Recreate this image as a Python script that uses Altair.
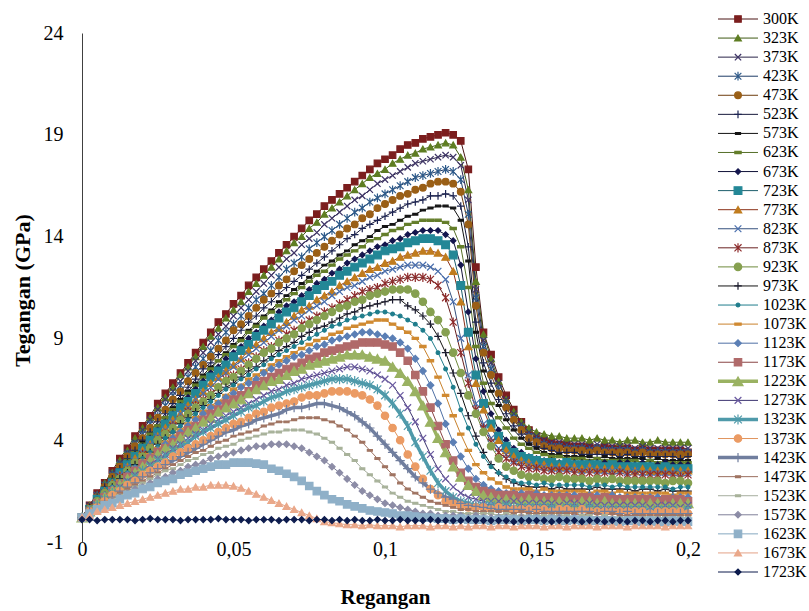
import altair as alt
import pandas as pd

# Strain sampling grid (step 0.0025 from 0 to 0.2)
strain = [round(i * 0.0025, 4) for i in range(81)]

temps = ["300K", "323K", "373K", "423K", "473K", "523K", "573K", "623K", "673K",
         "723K", "773K", "823K", "873K", "923K", "973K", "1023K", "1073K", "1123K",
         "1173K", "1223K", "1273K", "1323K", "1373K", "1423K", "1473K", "1523K",
         "1573K", "1623K", "1673K", "1723K"]

# Stress (GPa) for each temperature, one value per strain step
k300 = [0.2, 0.8, 1.4, 1.9, 2.5, 3.1, 3.6, 4.2, 4.7, 5.2,
        5.8, 6.3, 6.8, 7.3, 7.8, 8.3, 8.8, 9.3, 9.8, 10.2,
        10.7, 11.1, 11.6, 12.0, 12.4, 12.8, 13.2, 13.6, 14.0, 14.4,
        14.8, 15.1, 15.5, 15.8, 16.1, 16.4, 16.7, 17.0, 17.3, 17.6,
        17.8, 18.0, 18.3, 18.5, 18.6, 18.8, 18.9, 19.0, 19.1, 19.0,
        18.7, 17.3, 12.5, 9.3, 8.2, 7.1, 6.2, 5.5, 4.9, 4.5,
        4.2, 4.0, 3.9, 3.8, 3.8, 3.7, 3.7, 3.7, 3.6, 3.7,
        3.6, 3.6, 3.6, 3.5, 3.6, 3.5, 3.5, 3.5, 3.5, 3.5, 3.4]
k323 = [0.2, 0.8, 1.3, 1.9, 2.4, 3.0, 3.5, 4.1, 4.6, 5.1,
        5.6, 6.1, 6.6, 7.2, 7.6, 8.1, 8.6, 9.1, 9.5, 10.0,
        10.4, 10.8, 11.3, 11.7, 12.1, 12.5, 12.9, 13.3, 13.7, 14.0,
        14.4, 14.7, 15.1, 15.4, 15.7, 16.0, 16.3, 16.6, 16.9, 17.1,
        17.3, 17.6, 17.8, 18.0, 18.1, 18.3, 18.4, 18.5, 18.6, 18.5,
        17.9, 16.3, 11.8, 9.2, 8.0, 6.9, 6.0, 5.4, 4.9, 4.6,
        4.4, 4.3, 4.2, 4.2, 4.1, 4.1, 4.1, 4.0, 4.1, 4.0,
        4.0, 3.9, 4.0, 4.0, 3.9, 3.9, 4.0, 3.9, 3.9, 3.9, 3.9]
k373 = [0.2, 0.8, 1.3, 1.8, 2.4, 2.9, 3.4, 3.9, 4.5, 5.0,
        5.5, 6.0, 6.4, 6.9, 7.4, 7.9, 8.3, 8.8, 9.2, 9.6,
        10.1, 10.5, 10.9, 11.3, 11.7, 12.1, 12.5, 12.9, 13.2, 13.6,
        13.9, 14.2, 14.6, 14.9, 15.2, 15.5, 15.8, 16.0, 16.3, 16.6,
        16.8, 17.0, 17.2, 17.4, 17.6, 17.7, 17.8, 17.9, 18.0, 17.9,
        17.5, 15.8, 11.4, 8.9, 7.8, 6.8, 6.0, 5.3, 4.8, 4.4,
        4.2, 4.0, 3.9, 3.9, 3.8, 3.8, 3.8, 3.7, 3.8, 3.7,
        3.7, 3.7, 3.7, 3.6, 3.7, 3.6, 3.6, 3.6, 3.6, 3.6, 3.6]
k423 = [0.2, 0.7, 1.3, 1.8, 2.3, 2.8, 3.3, 3.8, 4.3, 4.8,
        5.2, 5.7, 6.2, 6.7, 7.1, 7.6, 8.0, 8.4, 8.9, 9.3,
        9.7, 10.1, 10.5, 10.9, 11.2, 11.6, 12.0, 12.4, 12.7, 13.0,
        13.4, 13.7, 14.0, 14.3, 14.6, 14.9, 15.2, 15.4, 15.7, 15.9,
        16.1, 16.3, 16.5, 16.7, 16.9, 17.0, 17.1, 17.2, 17.3, 17.2,
        16.8, 15.1, 11.0, 8.6, 7.5, 6.5, 5.8, 5.1, 4.6, 4.2,
        4.0, 3.8, 3.7, 3.7, 3.6, 3.6, 3.6, 3.5, 3.6, 3.5,
        3.5, 3.5, 3.5, 3.4, 3.5, 3.4, 3.4, 3.4, 3.4, 3.4, 3.4]
k473 = [0.2, 0.7, 1.2, 1.7, 2.2, 2.7, 3.2, 3.7, 4.1, 4.6,
        5.1, 5.5, 6.0, 6.4, 6.9, 7.3, 7.7, 8.1, 8.5, 8.9,
        9.4, 9.7, 10.1, 10.5, 10.9, 11.2, 11.6, 11.9, 12.3, 12.6,
        12.9, 13.2, 13.5, 13.8, 14.1, 14.4, 14.6, 14.9, 15.1, 15.4,
        15.6, 15.8, 16.0, 16.1, 16.3, 16.4, 16.6, 16.7, 16.7, 16.6,
        16.2, 14.6, 10.6, 8.3, 7.2, 6.3, 5.6, 5.0, 4.5, 4.1,
        3.9, 3.7, 3.6, 3.6, 3.5, 3.5, 3.5, 3.4, 3.5, 3.4,
        3.4, 3.4, 3.4, 3.3, 3.4, 3.3, 3.3, 3.3, 3.3, 3.3, 3.3]
k523 = [0.2, 0.7, 1.2, 1.7, 2.1, 2.6, 3.1, 3.5, 4.0, 4.4,
        4.9, 5.3, 5.8, 6.2, 6.6, 7.0, 7.5, 7.8, 8.2, 8.6,
        9.0, 9.4, 9.8, 10.1, 10.5, 10.8, 11.2, 11.5, 11.8, 12.1,
        12.4, 12.7, 13.0, 13.3, 13.6, 13.9, 14.1, 14.4, 14.6, 14.8,
        15.0, 15.2, 15.4, 15.6, 15.7, 15.8, 16.0, 16.0, 16.1, 16.0,
        15.5, 13.5, 9.8, 7.8, 6.8, 6.0, 5.3, 4.7, 4.3, 3.9,
        3.7, 3.6, 3.5, 3.4, 3.4, 3.4, 3.3, 3.3, 3.3, 3.3,
        3.3, 3.2, 3.3, 3.2, 3.2, 3.2, 3.2, 3.2, 3.2, 3.1, 3.2]
k573 = [0.2, 0.7, 1.1, 1.6, 2.1, 2.5, 3.0, 3.4, 3.9, 4.3,
        4.7, 5.1, 5.6, 6.0, 6.4, 6.8, 7.2, 7.6, 7.9, 8.3,
        8.7, 9.0, 9.4, 9.7, 10.1, 10.4, 10.8, 11.1, 11.4, 11.7,
        12.0, 12.3, 12.6, 12.8, 13.1, 13.3, 13.6, 13.8, 14.0, 14.3,
        14.5, 14.6, 14.8, 15.0, 15.1, 15.3, 15.4, 15.5, 15.5, 15.4,
        14.8, 12.8, 9.3, 7.4, 6.4, 5.7, 5.0, 4.5, 4.1, 3.8,
        3.6, 3.4, 3.3, 3.3, 3.2, 3.2, 3.2, 3.2, 3.1, 3.2,
        3.1, 3.1, 3.1, 3.1, 3.1, 3.0, 3.1, 3.0, 3.0, 3.0, 3.0]
k623 = [0.2, 0.7, 1.1, 1.6, 2.1, 2.5, 3.0, 3.4, 3.8, 4.3,
        4.7, 5.1, 5.5, 5.9, 6.3, 6.7, 7.1, 7.5, 7.9, 8.2,
        8.6, 8.9, 9.3, 9.6, 10.0, 10.3, 10.6, 10.9, 11.2, 11.5,
        11.8, 12.1, 12.3, 12.6, 12.9, 13.1, 13.3, 13.5, 13.8, 13.9,
        14.1, 14.3, 14.4, 14.6, 14.7, 14.8, 14.8, 14.8, 14.7, 14.4,
        13.5, 11.5, 8.6, 6.8, 5.8, 5.1, 4.6, 4.1, 3.8, 3.6,
        3.4, 3.3, 3.2, 3.2, 3.1, 3.1, 3.1, 3.0, 3.1, 3.0,
        3.0, 3.0, 3.0, 3.0, 2.9, 3.0, 2.9, 2.9, 2.9, 2.9, 2.9]
k673 = [0.2, 0.7, 1.1, 1.6, 2.0, 2.4, 2.9, 3.3, 3.7, 4.1,
        4.5, 4.9, 5.3, 5.7, 6.1, 6.5, 6.9, 7.3, 7.6, 8.0,
        8.3, 8.6, 9.0, 9.3, 9.6, 9.9, 10.3, 10.6, 10.8, 11.1,
        11.4, 11.7, 11.9, 12.2, 12.4, 12.7, 12.9, 13.1, 13.3, 13.5,
        13.6, 13.8, 13.9, 14.1, 14.2, 14.3, 14.3, 14.3, 14.1, 13.8,
        12.6, 10.3, 8.0, 6.4, 5.3, 4.5, 4.0, 3.6, 3.4, 3.2,
        3.1, 3.0, 3.0, 2.9, 3.0, 2.9, 2.9, 2.9, 2.9, 2.9,
        2.8, 2.9, 2.9, 2.8, 2.9, 2.8, 2.8, 2.9, 2.8, 2.8, 2.8]
k723 = [0.2, 0.6, 1.1, 1.5, 1.9, 2.4, 2.8, 3.2, 3.6, 4.0,
        4.4, 4.8, 5.2, 5.6, 5.9, 6.3, 6.7, 7.1, 7.4, 7.7,
        8.1, 8.4, 8.7, 9.1, 9.4, 9.7, 10.0, 10.3, 10.5, 10.8,
        11.1, 11.4, 11.6, 11.8, 12.1, 12.3, 12.5, 12.7, 12.9, 13.1,
        13.3, 13.4, 13.5, 13.7, 13.8, 13.9, 13.9, 13.8, 13.6, 13.1,
        11.6, 9.3, 7.2, 5.8, 4.8, 4.2, 3.7, 3.4, 3.2, 3.1,
        3.0, 2.9, 2.9, 2.8, 2.9, 2.8, 2.8, 2.8, 2.8, 2.7,
        2.8, 2.7, 2.7, 2.7, 2.7, 2.7, 2.6, 2.7, 2.6, 2.6, 2.6]
k773 = [0.2, 0.6, 1.0, 1.5, 1.9, 2.3, 2.7, 3.1, 3.5, 3.8,
        4.2, 4.6, 5.0, 5.3, 5.7, 6.0, 6.4, 6.8, 7.1, 7.4,
        7.7, 8.0, 8.4, 8.7, 9.0, 9.3, 9.5, 9.8, 10.1, 10.4,
        10.6, 10.9, 11.1, 11.3, 11.6, 11.8, 12.0, 12.2, 12.4, 12.5,
        12.7, 12.8, 13.0, 13.1, 13.2, 13.3, 13.3, 13.2, 13.0, 12.3,
        10.8, 8.6, 6.8, 5.5, 4.6, 4.0, 3.5, 3.2, 3.0, 2.9,
        2.8, 2.8, 2.7, 2.7, 2.7, 2.7, 2.6, 2.7, 2.6, 2.6,
        2.6, 2.6, 2.6, 2.5, 2.6, 2.5, 2.5, 2.5, 2.5, 2.5, 2.5]
k823 = [0.2, 0.6, 1.0, 1.4, 1.9, 2.3, 2.7, 3.0, 3.4, 3.8,
        4.2, 4.5, 4.9, 5.3, 5.6, 6.0, 6.3, 6.6, 7.0, 7.3,
        7.6, 7.9, 8.2, 8.5, 8.8, 9.1, 9.4, 9.6, 9.9, 10.1,
        10.4, 10.6, 10.8, 11.1, 11.3, 11.5, 11.6, 11.8, 12.0, 12.1,
        12.3, 12.4, 12.5, 12.6, 12.6, 12.6, 12.5, 12.3, 11.9, 10.8,
        9.0, 7.2, 5.8, 4.8, 4.1, 3.6, 3.3, 3.0, 2.9, 2.8,
        2.7, 2.7, 2.6, 2.6, 2.6, 2.6, 2.5, 2.6, 2.5, 2.5,
        2.5, 2.5, 2.4, 2.5, 2.4, 2.4, 2.4, 2.4, 2.4, 2.4, 2.4]
k873 = [0.2, 0.6, 1.0, 1.4, 1.8, 2.2, 2.5, 2.9, 3.3, 3.6,
        4.0, 4.3, 4.7, 5.0, 5.4, 5.7, 6.0, 6.3, 6.6, 7.0,
        7.2, 7.5, 7.8, 8.1, 8.4, 8.6, 8.9, 9.2, 9.4, 9.7,
        9.9, 10.1, 10.3, 10.5, 10.7, 10.9, 11.1, 11.3, 11.4, 11.5,
        11.7, 11.8, 11.9, 12.0, 12.0, 12.0, 11.9, 11.6, 11.0, 9.8,
        8.3, 6.8, 5.5, 4.6, 3.9, 3.4, 3.1, 2.9, 2.7, 2.6,
        2.6, 2.5, 2.5, 2.5, 2.5, 2.4, 2.4, 2.4, 2.4, 2.4,
        2.3, 2.4, 2.3, 2.3, 2.3, 2.3, 2.3, 2.3, 2.3, 2.2, 2.3]
k923 = [0.2, 0.6, 1.0, 1.4, 1.8, 2.1, 2.5, 2.9, 3.2, 3.6,
        4.0, 4.3, 4.6, 5.0, 5.3, 5.6, 5.9, 6.2, 6.6, 6.9,
        7.1, 7.4, 7.7, 8.0, 8.3, 8.5, 8.8, 9.0, 9.2, 9.5,
        9.7, 9.9, 10.1, 10.3, 10.5, 10.6, 10.8, 10.9, 11.1, 11.2,
        11.3, 11.4, 11.4, 11.4, 11.2, 10.8, 10.3, 9.9, 9.3, 8.3,
        7.3, 6.2, 5.3, 4.4, 3.7, 3.1, 2.7, 2.5, 2.3, 2.2,
        2.2, 2.1, 2.1, 2.2, 2.1, 2.1, 2.1, 2.0, 2.1, 2.0,
        2.1, 2.0, 2.0, 2.0, 2.0, 2.0, 2.0, 1.9, 2.0, 2.0, 1.9]
k973 = [0.2, 0.6, 0.9, 1.3, 1.7, 2.1, 2.4, 2.8, 3.1, 3.4,
        3.8, 4.1, 4.4, 4.8, 5.1, 5.4, 5.7, 6.0, 6.3, 6.6,
        6.8, 7.1, 7.4, 7.6, 7.9, 8.1, 8.4, 8.6, 8.8, 9.1,
        9.3, 9.5, 9.6, 9.8, 10.0, 10.2, 10.3, 10.5, 10.6, 10.7,
        10.8, 10.9, 10.9, 10.6, 10.4, 10.1, 9.7, 9.1, 8.3, 7.3,
        6.3, 5.2, 4.2, 3.4, 2.8, 2.4, 2.1, 1.9, 1.8, 1.7,
        1.7, 1.7, 1.6, 1.7, 1.6, 1.6, 1.6, 1.6, 1.7, 1.6,
        1.6, 1.6, 1.6, 1.5, 1.6, 1.6, 1.5, 1.6, 1.5, 1.5, 1.5]
k1023 = [0.2, 0.6, 0.9, 1.3, 1.7, 2.0, 2.4, 2.7, 3.1, 3.4,
         3.7, 4.1, 4.4, 4.7, 5.0, 5.3, 5.6, 5.9, 6.2, 6.5,
         6.7, 7.0, 7.2, 7.5, 7.7, 8.0, 8.2, 8.4, 8.6, 8.8,
         9.0, 9.2, 9.4, 9.6, 9.7, 9.9, 10.0, 10.1, 10.2, 10.3,
         10.3, 10.2, 10.1, 9.9, 9.7, 9.4, 9.0, 8.3, 7.5, 6.6,
         5.5, 4.6, 3.8, 3.2, 2.7, 2.4, 2.2, 2.0, 1.9, 1.9,
         1.8, 1.9, 1.8, 1.8, 1.8, 1.8, 1.8, 1.7, 1.8, 1.8,
         1.7, 1.8, 1.7, 1.7, 1.7, 1.7, 1.7, 1.7, 1.6, 1.7, 1.7]
k1073 = [0.2, 0.6, 0.9, 1.3, 1.6, 2.0, 2.3, 2.6, 3.0, 3.3,
         3.6, 3.9, 4.2, 4.5, 4.8, 5.1, 5.4, 5.7, 5.9, 6.2,
         6.5, 6.7, 7.0, 7.2, 7.4, 7.7, 7.9, 8.1, 8.3, 8.5,
         8.7, 8.9, 9.0, 9.2, 9.3, 9.5, 9.6, 9.7, 9.8, 9.9,
         9.9, 9.7, 9.5, 9.3, 9.0, 8.6, 7.9, 7.1, 6.2, 5.2,
         4.3, 3.5, 2.8, 2.4, 2.1, 1.9, 1.7, 1.6, 1.6, 1.6,
         1.5, 1.6, 1.5, 1.5, 1.5, 1.5, 1.5, 1.4, 1.5, 1.5,
         1.4, 1.5, 1.4, 1.4, 1.4, 1.4, 1.4, 1.4, 1.3, 1.4, 1.4]
k1123 = [0.2, 0.6, 0.9, 1.3, 1.6, 1.9, 2.3, 2.6, 2.9, 3.2,
         3.5, 3.8, 4.1, 4.4, 4.7, 5.0, 5.3, 5.6, 5.8, 6.1,
         6.3, 6.6, 6.8, 7.0, 7.3, 7.5, 7.7, 7.9, 8.1, 8.2,
         8.4, 8.6, 8.7, 8.9, 9.0, 9.1, 9.2, 9.3, 9.3, 9.2,
         9.1, 9.0, 8.8, 8.5, 8.0, 7.4, 6.7, 5.8, 4.8, 3.9,
         3.2, 2.6, 2.1, 1.8, 1.6, 1.5, 1.4, 1.4, 1.4, 1.3,
         1.4, 1.3, 1.3, 1.3, 1.3, 1.3, 1.2, 1.3, 1.3, 1.2,
         1.3, 1.2, 1.2, 1.2, 1.2, 1.2, 1.2, 1.1, 1.2, 1.2, 1.2]
k1173 = [0.2, 0.5, 0.9, 1.2, 1.5, 1.8, 2.2, 2.5, 2.8, 3.1,
         3.4, 3.6, 3.9, 4.2, 4.5, 4.7, 5.0, 5.3, 5.5, 5.8,
         6.0, 6.2, 6.4, 6.7, 6.9, 7.1, 7.3, 7.5, 7.6, 7.8,
         8.0, 8.1, 8.3, 8.4, 8.5, 8.6, 8.7, 8.8, 8.8, 8.8,
         8.7, 8.6, 8.3, 7.9, 7.2, 6.4, 5.6, 4.7, 3.8, 3.0,
         2.4, 2.0, 1.7, 1.5, 1.4, 1.3, 1.3, 1.3, 1.2, 1.3,
         1.2, 1.2, 1.2, 1.2, 1.2, 1.1, 1.2, 1.2, 1.1, 1.2,
         1.1, 1.1, 1.1, 1.1, 1.1, 1.1, 1.0, 1.1, 1.1, 1.1, 1.0]
k1223 = [0.2, 0.5, 0.9, 1.2, 1.5, 1.8, 2.1, 2.4, 2.7, 3.0,
         3.3, 3.6, 3.8, 4.1, 4.4, 4.6, 4.9, 5.1, 5.4, 5.6,
         5.8, 6.0, 6.3, 6.5, 6.7, 6.9, 7.0, 7.2, 7.4, 7.5,
         7.7, 7.8, 7.9, 8.0, 8.1, 8.2, 8.2, 8.2, 8.1, 8.0,
         7.9, 7.6, 7.3, 6.9, 6.4, 5.7, 4.9, 4.1, 3.4, 2.7,
         2.2, 1.8, 1.5, 1.3, 1.2, 1.1, 1.1, 1.1, 1.0, 1.1,
         1.0, 1.0, 1.0, 1.0, 1.0, 0.9, 1.0, 1.0, 0.9, 1.0,
         0.9, 0.9, 0.9, 0.9, 0.9, 0.9, 0.9, 0.8, 0.9, 0.9, 0.9]
k1273 = [0.2, 0.5, 0.8, 1.1, 1.4, 1.7, 2.0, 2.3, 2.5, 2.8,
         3.1, 3.3, 3.6, 3.8, 4.1, 4.3, 4.5, 4.8, 5.0, 5.2,
         5.4, 5.6, 5.8, 6.0, 6.2, 6.4, 6.5, 6.7, 6.8, 7.0,
         7.1, 7.2, 7.3, 7.4, 7.5, 7.6, 7.6, 7.5, 7.4, 7.2,
         7.0, 6.7, 6.2, 5.6, 4.9, 4.1, 3.3, 2.6, 2.1, 1.7,
         1.4, 1.2, 1.1, 1.0, 1.0, 1.0, 0.9, 1.0, 0.9, 0.9,
         0.9, 0.9, 0.9, 0.8, 0.9, 0.9, 0.8, 0.9, 0.8, 0.8,
         0.8, 0.8, 0.8, 0.8, 0.8, 0.7, 0.8, 0.8, 0.8, 0.7, 0.8]
k1323 = [0.2, 0.5, 0.8, 1.1, 1.4, 1.6, 1.9, 2.2, 2.5, 2.7,
         3.0, 3.2, 3.5, 3.7, 3.9, 4.2, 4.4, 4.6, 4.8, 5.0,
         5.2, 5.4, 5.6, 5.7, 5.9, 6.1, 6.2, 6.4, 6.5, 6.6,
         6.7, 6.8, 6.9, 7.0, 7.0, 7.0, 6.9, 6.8, 6.7, 6.5,
         6.2, 5.8, 5.3, 4.7, 3.9, 3.2, 2.5, 1.9, 1.5, 1.2,
         1.0, 0.9, 0.8, 0.8, 0.8, 0.7, 0.8, 0.7, 0.7, 0.7,
         0.7, 0.7, 0.7, 0.6, 0.7, 0.7, 0.6, 0.7, 0.6, 0.6,
         0.6, 0.6, 0.6, 0.6, 0.6, 0.5, 0.6, 0.6, 0.6, 0.5, 0.6]
k1373 = [0.2, 0.5, 0.7, 1.0, 1.3, 1.5, 1.8, 2.0, 2.3, 2.5,
         2.7, 2.9, 3.2, 3.4, 3.6, 3.8, 4.0, 4.2, 4.4, 4.6,
         4.8, 4.9, 5.1, 5.3, 5.4, 5.6, 5.7, 5.8, 5.9, 6.1,
         6.2, 6.2, 6.3, 6.4, 6.4, 6.4, 6.3, 6.2, 6.0, 5.7,
         5.2, 4.6, 4.0, 3.3, 2.7, 2.1, 1.6, 1.3, 1.0, 0.9,
         0.8, 0.7, 0.7, 0.7, 0.6, 0.7, 0.6, 0.6, 0.6, 0.6,
         0.6, 0.6, 0.5, 0.6, 0.6, 0.5, 0.6, 0.5, 0.5, 0.5,
         0.5, 0.5, 0.5, 0.5, 0.5, 0.4, 0.5, 0.5, 0.5, 0.5, 0.4]
k1423 = [0.2, 0.5, 0.7, 1.0, 1.2, 1.5, 1.7, 1.9, 2.2, 2.4,
         2.6, 2.8, 3.0, 3.2, 3.4, 3.6, 3.8, 4.0, 4.2, 4.4,
         4.5, 4.7, 4.8, 5.0, 5.1, 5.2, 5.3, 5.5, 5.6, 5.6,
         5.7, 5.8, 5.8, 5.7, 5.6, 5.4, 5.2, 4.9, 4.6, 4.2,
         3.8, 3.4, 3.0, 2.6, 2.2, 1.9, 1.6, 1.4, 1.2, 1.1,
         0.9, 0.8, 0.75, 0.7, 0.65, 0.6, 0.6, 0.6, 0.6, 0.5,
         0.6, 0.5, 0.5, 0.5, 0.5, 0.5, 0.5, 0.5, 0.4, 0.5,
         0.5, 0.4, 0.5, 0.4, 0.4, 0.4, 0.4, 0.4, 0.4, 0.4, 0.4]
k1473 = [0.2, 0.4, 0.7, 0.9, 1.1, 1.4, 1.6, 1.8, 2.0, 2.2,
         2.4, 2.6, 2.8, 3.0, 3.2, 3.4, 3.5, 3.7, 3.9, 4.0,
         4.2, 4.3, 4.4, 4.5, 4.7, 4.8, 4.9, 4.9, 5.0, 5.1,
         5.1, 5.1, 5.0, 4.9, 4.7, 4.5, 4.2, 3.9, 3.5, 3.1,
         2.7, 2.3, 1.9, 1.6, 1.4, 1.2, 1.0, 0.9, 0.8, 0.7,
         0.6, 0.6, 0.5, 0.5, 0.5, 0.5, 0.5, 0.4, 0.5, 0.4,
         0.4, 0.4, 0.4, 0.4, 0.4, 0.4, 0.3, 0.4, 0.4, 0.3,
         0.4, 0.3, 0.3, 0.3, 0.3, 0.3, 0.3, 0.3, 0.3, 0.3, 0.3]
k1523 = [0.2, 0.4, 0.7, 0.9, 1.1, 1.3, 1.5, 1.7, 1.9, 2.1,
         2.3, 2.5, 2.6, 2.8, 3.0, 3.1, 3.3, 3.4, 3.6, 3.7,
         3.8, 4.0, 4.1, 4.2, 4.3, 4.4, 4.4, 4.5, 4.5, 4.5,
         4.4, 4.3, 4.1, 3.9, 3.6, 3.3, 3.0, 2.6, 2.3, 2.0,
         1.7, 1.4, 1.2, 1.0, 0.9, 0.8, 0.7, 0.6, 0.5, 0.5,
         0.4, 0.4, 0.4, 0.4, 0.4, 0.3, 0.4, 0.3, 0.3, 0.3,
         0.3, 0.3, 0.3, 0.3, 0.3, 0.2, 0.3, 0.3, 0.2, 0.3,
         0.2, 0.2, 0.2, 0.2, 0.2, 0.2, 0.2, 0.2, 0.2, 0.2, 0.2]
k1573 = [0.2, 0.4, 0.6, 0.8, 1.0, 1.2, 1.4, 1.6, 1.7, 1.9,
         2.1, 2.2, 2.4, 2.5, 2.7, 2.8, 2.9, 3.1, 3.2, 3.3,
         3.4, 3.5, 3.6, 3.7, 3.7, 3.8, 3.8, 3.8, 3.7, 3.6,
         3.4, 3.2, 3.0, 2.7, 2.4, 2.1, 1.8, 1.5, 1.3, 1.1,
         0.9, 0.8, 0.7, 0.6, 0.5, 0.4, 0.4, 0.3, 0.3, 0.3,
         0.3, 0.2, 0.3, 0.2, 0.2, 0.2, 0.2, 0.2, 0.2, 0.2,
         0.2, 0.1, 0.2, 0.2, 0.1, 0.2, 0.1, 0.1, 0.1, 0.1,
         0.1, 0.1, 0.1, 0.1, 0.1, 0.1, 0.1, 0.1, 0.1, 0.1, 0.1]
k1623 = [0.2, 0.4, 0.6, 0.8, 0.9, 1.1, 1.3, 1.4, 1.6, 1.7,
         1.9, 2.0, 2.1, 2.3, 2.4, 2.5, 2.6, 2.7, 2.8, 2.8,
         2.9, 2.9, 2.9, 2.85, 2.8, 2.6, 2.5, 2.35, 2.2, 2.0,
         1.75, 1.5, 1.3, 1.1, 1.0, 0.85, 0.75, 0.65, 0.55, 0.5,
         0.45, 0.4, 0.3, 0.3, 0.25, 0.2, 0.2, 0.15, 0.15, 0.1,
         0.15, 0.1, 0.1, 0.1, 0.05, 0.1, 0.1, 0.1, 0.05, 0.1,
         0.1, 0.05, 0.1, 0.05, 0.05, 0.1, 0.05, 0.05, 0.05, 0.05,
         0.05, 0.0, 0.05, 0.05, 0.0, 0.05, 0.0, 0.0, 0.05, 0.0, 0.0]
k1673 = [0.2, 0.3, 0.5, 0.6, 0.7, 0.8, 0.9, 1.0, 1.1, 1.2,
         1.3, 1.4, 1.5, 1.6, 1.6, 1.7, 1.7, 1.8, 1.8, 1.8,
         1.75, 1.65, 1.5, 1.35, 1.2, 1.05, 0.9, 0.75, 0.6, 0.45,
         0.3, 0.15, 0.0, -0.05, -0.1, -0.15, -0.15, -0.2, -0.15, -0.2,
         -0.2, -0.2, -0.25, -0.2, -0.2, -0.2, -0.25, -0.2, -0.2, -0.25,
         -0.2, -0.25, -0.2, -0.2, -0.25, -0.2, -0.2, -0.25, -0.2, -0.2,
         -0.2, -0.25, -0.2, -0.2, -0.25, -0.2, -0.2, -0.2, -0.25, -0.2,
         -0.2, -0.2, -0.25, -0.2, -0.2, -0.2, -0.2, -0.25, -0.2, -0.2, -0.2]
k1723 = [0.1, 0.1, 0.05, 0.1, 0.1, 0.1, 0.1, 0.05, 0.1, 0.15,
         0.1, 0.1, 0.1, 0.05, 0.1, 0.1, 0.1, 0.1, 0.15, 0.1,
         0.1, 0.1, 0.05, 0.1, 0.1, 0.1, 0.05, 0.1, 0.1, 0.1,
         0.05, 0.1, 0.1, 0.05, 0.1, 0.05, 0.1, 0.05, 0.05, 0.1,
         0.05, 0.05, 0.1, 0.05, 0.05, 0.05, 0.1, 0.05, 0.05, 0.05,
         0.05, 0.1, 0.05, 0.05, 0.05, 0.05, 0.05, 0.0, 0.05, 0.05,
         0.05, 0.05, 0.0, 0.05, 0.05, 0.05, 0.0, 0.05, 0.05, 0.0,
         0.05, 0.05, 0.0, 0.05, 0.05, 0.0, 0.05, 0.05, 0.0, 0.05, 0.05]

series = [k300, k323, k373, k423, k473, k523, k573, k623, k673, k723, k773,
          k823, k873, k923, k973, k1023, k1073, k1123, k1173, k1223, k1273,
          k1323, k1373, k1423, k1473, k1523, k1573, k1623, k1673, k1723]

# ---- styling per series ----
SQ = "square"
TRI = "triangle-up"
CIR = "circle"
DIA = "diamond"
XM = "M-1,-1L1,1M-1,1L1,-1"
STAR = "M-1,-1L1,1M-1,1L1,-1M0,-1.3L0,1.3"
PLUS = "M-1.2,0L1.2,0M0,-1.2L0,1.2"
DASH = "M-1,-0.35L1,-0.35L1,0.35L-1,0.35Z"

shapes = [SQ, TRI, XM, STAR, CIR, PLUS, DASH, DASH, DIA, SQ, TRI, XM, STAR, CIR,
          PLUS, CIR, DASH, DIA, SQ, TRI, XM, STAR, CIR, PLUS, DASH, DASH, DIA,
          SQ, TRI, DIA]
sizes = [42, 45, 40, 45, 45, 40, 25, 40, 30, 60, 55, 45, 50, 55, 40, 14, 40, 45,
         55, 100, 45, 60, 55, 60, 25, 25, 40, 55, 50, 35]
marker_colors = ["#7b1e1e", "#5e7d22", "#3e3466", "#2d5a8a", "#9a5f16", "#1c2452",
                 "#151515", "#647e2a", "#14164e", "#238796", "#c07c1e", "#4a6fae",
                 "#8e2c2c", "#86a050", "#1b1b2e", "#1f7d8c", "#d08a32", "#5b7fb5",
                 "#b06a6a", "#9ab262", "#6a5aa0", "#4f9aaa", "#eb9b64", "#707e9e",
                 "#a07462", "#a8b29a", "#8c8ca6", "#8fb0c8", "#eaa88a", "#0c1b4d"]
line_colors = ["#4a1414", "#3f5a14", "#2a2448", "#1e3c66", "#6e3c0e", "#16183a",
               "#111111", "#56702a", "#101238", "#1b5e6b", "#8a3018", "#34507e",
               "#6a2020", "#6f8a3c", "#151515", "#1f7d8c", "#c9822c", "#4f70a5",
               "#8a4444", "#9ab262", "#3c3470", "#4f9aaa", "#e0955e", "#707e9e",
               "#9a6e5e", "#a6ae9e", "#80809a", "#86a8c0", "#e3a286", "#0c1b4d"]
widths = [1.0] * 19 + [3.5, 1.0, 3.5, 1.0, 3.5] + [1.0] * 6

rows = []
for name, vals in zip(temps, series):
    assert len(vals) == len(strain), (name, len(vals))
    for s, v in zip(strain, vals):
        rows.append({"strain": s, "stress": v, "T": name})
df = pd.DataFrame(rows)
legend_df = pd.DataFrame({"T": temps})

FONT = "Liberation Serif"

line_scale = alt.Scale(domain=temps, range=line_colors)
mark_scale = alt.Scale(domain=temps, range=marker_colors)
shape_scale = alt.Scale(domain=temps, range=shapes)
size_scale = alt.Scale(type="ordinal", domain=temps, range=sizes)
width_scale = alt.Scale(type="ordinal", domain=temps, range=widths)

x_enc = alt.X(
    "strain:Q",
    scale=alt.Scale(domain=[0, 0.2], nice=False, zero=False),
    axis=alt.Axis(
        title="Regangan", values=[0, 0.05, 0.1, 0.15, 0.2],
        labelExpr="replace(toString(datum.value), '.', ',')",
        domain=False, ticks=False, tickSize=0, grid=False,
        labelFlush=False, labelOverlap=False, labelBound=False,
        labelBaseline="middle", labelPadding=7,
        labelFont=FONT, labelFontSize=20, labelColor="black",
        titleFont=FONT, titleFontSize=21, titleFontWeight="bold",
        titleColor="black", titleY=55, titleBaseline="middle",
    ),
)
y_enc = alt.Y(
    "stress:Q",
    scale=alt.Scale(domain=[-1, 24], nice=False, zero=False),
    axis=alt.Axis(
        title="Tegangan (GPa)", values=[-1, 4, 9, 14, 19, 24],
        labelExpr="toString(datum.value)",
        domainColor="#404040", domainWidth=1, ticks=False, tickSize=0,
        grid=False, labelPadding=19,
        labelFont=FONT, labelFontSize=20, labelColor="black",
        titleFont=FONT, titleFontSize=22, titleFontWeight="bold",
        titleColor="black", titleX=-60, titleY=257, titleAngle=270,
        titleAlign="center", titleBaseline="middle",
    ),
)

lines = alt.Chart(df).mark_line(interpolate="linear").encode(
    x=x_enc,
    y=y_enc,
    color=alt.Color("T:N", scale=line_scale, legend=None),
    strokeWidth=alt.StrokeWidth("T:N", scale=width_scale, legend=None),
    detail="T:N",
)

points = alt.Chart(df).mark_point(filled=True, strokeWidth=1.2, opacity=1).encode(
    x=x_enc,
    y=y_enc,
    shape=alt.Shape("T:N", scale=shape_scale, legend=None),
    fill=alt.Fill("T:N", scale=mark_scale, legend=None),
    stroke=alt.Stroke("T:N", scale=mark_scale, legend=None),
    size=alt.Size("T:N", scale=size_scale, legend=None),
)

# Legend column drawn from the series list
leg_y = alt.Y("T:N", sort=temps,
              scale=alt.Scale(type="point", domain=temps, range=[-14, 539], padding=0),
              axis=None)
leg_rule = alt.Chart(legend_df).mark_rule().encode(
    y=leg_y, x=alt.value(636), x2=alt.value(676),
    color=alt.Color("T:N", scale=line_scale, legend=None),
    strokeWidth=alt.StrokeWidth("T:N", scale=width_scale, legend=None),
)
leg_pts = alt.Chart(legend_df).mark_point(filled=True, strokeWidth=1.2, opacity=1).encode(
    y=leg_y, x=alt.value(656),
    shape=alt.Shape("T:N", scale=shape_scale, legend=None),
    fill=alt.Fill("T:N", scale=mark_scale, legend=None),
    stroke=alt.Stroke("T:N", scale=mark_scale, legend=None),
    size=alt.Size("T:N", scale=size_scale, legend=None),
)
leg_text = alt.Chart(legend_df).mark_text(
    align="left", baseline="middle", font=FONT, fontSize=16, color="black"
).encode(y=leg_y, x=alt.value(681), text="T:N")

main = alt.layer(lines, points)
legend = alt.layer(leg_rule, leg_pts, leg_text)

chart = alt.layer(main, legend).resolve_scale(y="independent").properties(
    width=606, height=509,
    autosize=alt.AutoSizeParams(type="none"),
    padding={"left": 82, "top": 33, "right": 121, "bottom": 69},
    background="white",
).configure_view(stroke=None)

chart.save("out.html", embed_options={"renderer": "svg", "actions": False})
